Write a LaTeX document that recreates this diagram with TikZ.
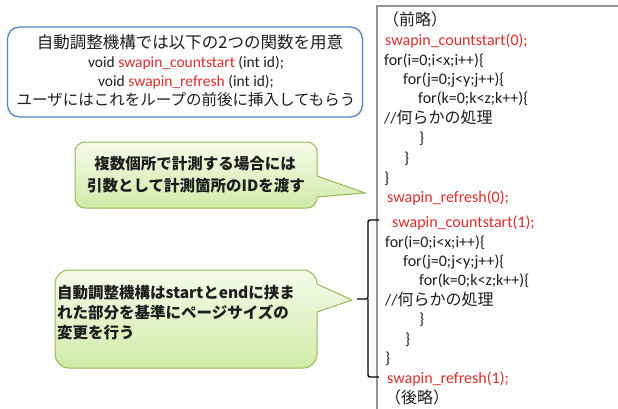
\documentclass[tikz,border=0pt]{standalone}
\usepackage{fontspec}
\setmainfont{Carlito}
\newfontfamily\jp{Noto Sans CJK JP}
\definecolor{codered}{RGB}{222,45,45}
\definecolor{codetxt}{RGB}{30,30,30}
\definecolor{boxblue}{RGB}{88,132,192}
\definecolor{gtop}{RGB}{247,251,234}
\definecolor{gbot}{RGB}{208,234,168}
\definecolor{gborder}{RGB}{150,185,85}
\definecolor{codeline}{RGB}{150,150,150}
\begin{document}
\begin{tikzpicture}[x=1pt,y=-1pt]
\tikzset{
  code/.style={inner sep=0pt, anchor=base west, font=\fontsize{16}{19}\selectfont, text=codetxt},
  rcode/.style={code, text=codered},
  toptxt/.style={inner sep=0pt, anchor=base, font=\fontsize{15.5}{18}\selectfont, text=codetxt},
  calltxt/.style={inner sep=0pt, font=\jp\bfseries\fontsize{15.5}{18}\selectfont, text=codetxt},
  callout/.style={draw=gborder, line width=1pt, top color=gtop, bottom color=gbot},
  bracepath/.style={draw=black, line width=1.4pt, rounded corners=2pt}
}
\useasboundingbox (0,0) rectangle (618,409);
\fill[white] (0,0) rectangle (618,409);

% code box frame
\draw[codeline, line width=1.4pt] (377,409) -- (377,6) -- (618,6);

% top box
\node[draw=boxblue, line width=1.3pt, rounded corners=12pt, minimum width=355pt, minimum height=90pt, inner sep=0pt] (topbox) at (185,72) {};
\node[toptxt, font=\fontsize{16.5}{19}\selectfont] (t1) at (190,49) {\jp 自動調整機構では以下の2つの関数を用意};
\node[toptxt] (t2) at (186,68) {void \textcolor{codered}{swapin\_countstart} (int id);};
\node[toptxt] (t3) at (186,87) {void \textcolor{codered}{swapin\_refresh} (int id);};
\node[toptxt] (t4) at (186,106) {\jp ユーザにはこれをループの前後に挿入してもらう};

% callout 1
\draw[callout] (85,142) -- (307,142) arc[start angle=270,end angle=360,radius=10]
  -- (317,176) -- (365,193) -- (317,197) -- (317,198)
  arc[start angle=0,end angle=90,radius=10] -- (85,208)
  arc[start angle=90,end angle=180,radius=10] -- (75,152)
  arc[start angle=180,end angle=270,radius=10] -- cycle;
\node[calltxt, anchor=base] (c1a) at (195,169) {複数個所で計測する場合には};
\node[calltxt, anchor=base] (c1b) at (196,191) {引数として計測箇所のIDを渡す};

% callout 2
\draw[callout] (69,270) -- (303,270) arc[start angle=270,end angle=360,radius=14]
  -- (317,284) -- (352,300) -- (317,312) -- (317,354)
  arc[start angle=0,end angle=90,radius=14] -- (69,368)
  arc[start angle=90,end angle=180,radius=14] -- (55,284)
  arc[start angle=180,end angle=270,radius=14] -- cycle;
\node[calltxt, anchor=base west] (c2a) at (57,298) {自動調整機構はstartとendに挟ま};
\node[calltxt, anchor=base west] (c2b) at (57,318) {れた部分を基準にページサイズの};
\node[calltxt, anchor=base west] (c2c) at (57,338) {変更を行う};

% brace
\coordinate (btop) at (379,220);
\coordinate (bmid) at (357,299);
\coordinate (bbot) at (379,377);
\draw[bracepath] (btop) -- (368,220) -- (368,299) -- (bmid);
\draw[bracepath] (368,299) -- (368,377) -- (bbot);

% code lines
\node[code] (l1) at (383,26) {\jp （前略）};
\node[rcode] (l2) at (385,46) {swapin\_countstart(0);};
\node[code] (l3) at (384,66) {for(i=0;i<x;i++)\{};
\node[code] (l4) at (403,85) {for(j=0;j<y;j++)\{};
\node[code] (l5) at (418,104) {for(k=0;k<z;k++)\{};
\node[code] (l6) at (384,124) {//{\jp 何らかの処理}};
\node[code] (l7) at (419,143) {\}};
\node[code] (l8) at (404,163) {\}};
\node[code] (l9) at (384,183) {\}};
\node[rcode] (l10) at (387,202) {swapin\_refresh(0);};
\node[rcode] (l11) at (392,227) {swapin\_countstart(1);};
\node[code] (l12) at (385,247) {for(i=0;i<x;i++)\{};
\node[code] (l13) at (403,266) {for(j=0;j<y;j++)\{};
\node[code] (l14) at (419,285) {for(k=0;k<z;k++)\{};
\node[code] (l15) at (385,305) {//{\jp 何らかの処理}};
\node[code] (l16) at (419,324) {\}};
\node[code] (l17) at (405,344) {\}};
\node[code] (l18) at (385,363) {\}};
\node[rcode] (l19) at (387,383) {swapin\_refresh(1);};
\node[code] (l20) at (385,403) {\jp （後略）};
\end{tikzpicture}
\end{document}
